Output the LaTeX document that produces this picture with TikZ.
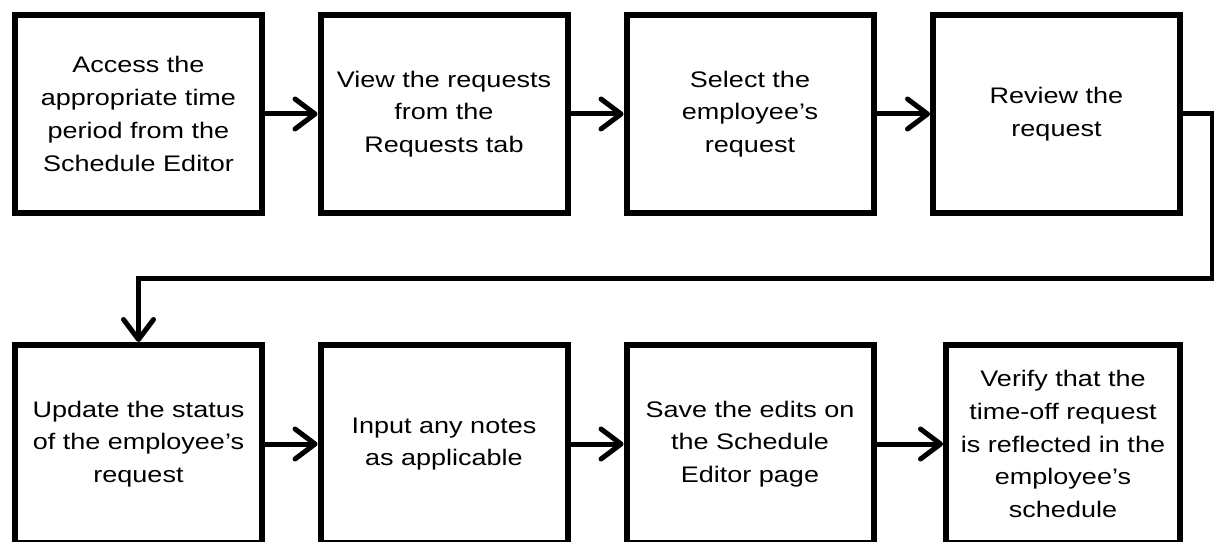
\documentclass[tikz,border=0pt]{standalone}
\usepackage{fontspec}
\setmainfont{Liberation Sans}[FakeStretch=1.2]
\usetikzlibrary{arrows.meta}

\begin{document}
\begin{tikzpicture}[x=1pt,y=1pt,>={Straight Barb[length=20pt,width=30pt,round]}]
  \tikzset{
    stepbox/.style={draw,line width=6pt,minimum width=247pt,minimum height=198pt,
      align=center,inner sep=0pt,font=\fontsize{22.5}{32.7}\selectfont},
    flow/.style={->,line width=5pt}
  }
  \useasboundingbox (0,0) rectangle (1214,541);
  \clip (0,0) rectangle (1214,541);

  % Primera fila
  \node[stepbox] (A) at (138.5,427) {Access the\\appropriate time\\period from the\\Schedule Editor};
  \node[stepbox] (B) at (444,427) {View the requests\\from the\\Requests tab};
  \node[stepbox] (C) at (750,427) {Select the\\employee’s\\request};
  \node[stepbox] (D) at (1056.5,427) {Review the\\request};

  % Segunda fila
  \node[stepbox] (E) at (138.5,97) {Update the status\\of the employee’s\\request};
  \node[stepbox] (F) at (444,97) {Input any notes\\as applicable};
  \node[stepbox] (G) at (750,97) {Save the edits on\\the Schedule\\Editor page};
  \node[stepbox,minimum width=234pt] (H) at (1063,97) {Verify that the\\time-off request\\is reflected in the\\employee’s\\schedule};

  \draw[flow] (A) -- (B);
  \draw[flow] (B) -- (C);
  \draw[flow] (C) -- (D);

  % Retorno a la segunda fila
  \coordinate (R) at (1212,262);
  \draw[flow] (D.east) -| (R) -| (E.north);

  \draw[flow] (E) -- (F);
  \draw[flow] (F) -- (G);
  \draw[flow] (G) -- (H);
\end{tikzpicture}
\end{document}
